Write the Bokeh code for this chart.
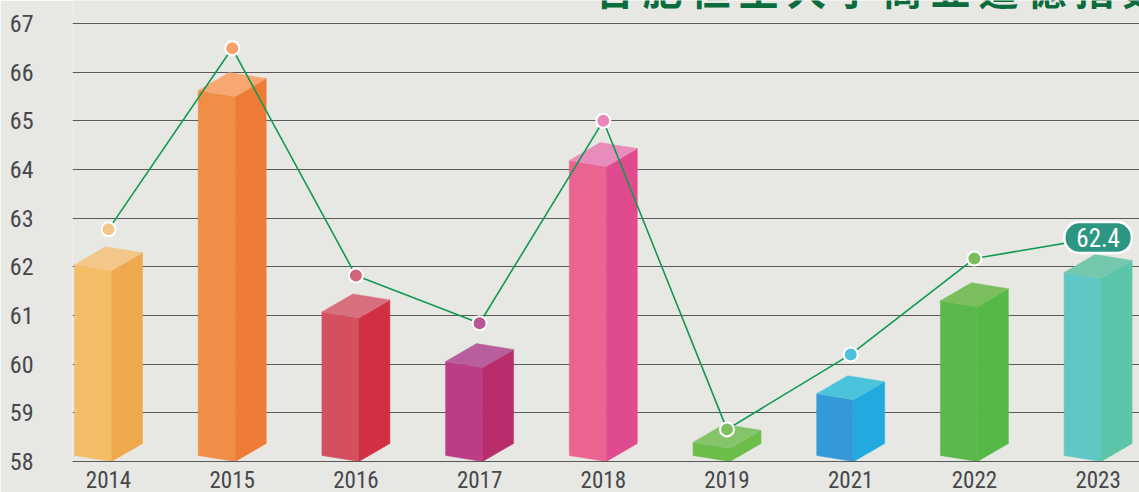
from bokeh.plotting import figure
from bokeh.embed import file_html
from bokeh.resources import INLINE
from bokeh.models import ColumnDataSource, FixedTicker, Label

years = ["2014", "2015", "2016", "2017", "2018", "2019", "2021", "2022", "2023"]
bar_values = [61.92, 65.50, 60.95, 59.93, 64.06, 58.27, 59.27, 61.18, 61.76]
line_values = [62.77, 66.49, 61.82, 60.84, 65.00, 58.66, 60.20, 62.17, 62.60]
y_ticks = [58, 59, 60, 61, 62, 63, 64, 65, 66, 67]
last_label = "62.4"
title_text = "\u2009".join("合肥恒生大学商业道德指数")
front_colors = ["#f4bd68", "#f08e48", "#d4505e", "#bc3c86", "#e96490", "#6cbd49", "#3399d8", "#5bb94b", "#60c8c4"]
side_colors = ["#eea94c", "#ee7b36", "#cf3043", "#b82d6c", "#e04a8e", "#6cbd49", "#22aae0", "#55b947", "#5cc4a8"]
top_colors = ["#f3c78a", "#f8a772", "#d7707c", "#b95e9c", "#e88dbb", "#85c46b", "#4cc3dc", "#7abe5e", "#74c8ae"]
dot_colors = ["#f3c78a", "#f6a36b", "#d0657a", "#b95596", "#e888bd", "#80c060", "#4fc0dc", "#7bbd5a", "#2c9683"]

W, H = 1139, 492
LEFT, BOTTOM = 72, 31
PITCH = 123.7          # px per category
UNIT = 48.67           # px per value unit
ORIGIN_X = 108
x0 = (LEFT - ORIGIN_X) / PITCH
x1 = (W - ORIGIN_X) / PITCH
y0 = 58
y1 = 58 + (H - BOTTOM) / UNIT

p = figure(width=W, height=H, x_range=(x0, x1), y_range=(y0, y1),
           output_backend="svg", toolbar_location=None,
           min_border_left=LEFT, min_border_right=0, min_border_top=0, min_border_bottom=BOTTOM,
           background_fill_color="#e7e8e3", border_fill_color="#e7e8e3",
           outline_line_color=None)

p.xgrid.visible = False
p.ygrid.ticker = FixedTicker(ticks=y_ticks[1:])
p.ygrid.grid_line_color = "#5a5a58"
p.ygrid.grid_line_width = 1

ax = p.xaxis[0]
ax.ticker = FixedTicker(ticks=list(range(len(years))))
ax.major_label_overrides = {i: y for i, y in enumerate(years)}
ax.axis_line_color = "#5a5a58"
ax.major_tick_line_color = None
ax.minor_tick_line_color = None
ax.major_tick_in = 0
ax.major_tick_out = 0
ax.major_label_standoff = 9
ax.major_label_text_font = "Roboto Condensed, Liberation Sans"
ax.major_label_text_font_size = "23px"
ax.major_label_text_color = "#45474a"

ay = p.yaxis[0]
ay.ticker = FixedTicker(ticks=y_ticks)
ay.axis_line_color = None
ay.major_tick_line_color = None
ay.minor_tick_line_color = None
ay.major_tick_in = 0
ay.major_tick_out = 0
ay.major_label_standoff = 39
ay.major_label_text_font = "Roboto Condensed, Liberation Sans"
ay.major_label_text_font_size = "24px"
ay.major_label_text_color = "#45474a"

# box geometry, px offsets from the front vertical edge
EDGE, L, R = 3, 37, 31
UP_L, UP_R, UP_B = 6, 18, 24

def X(i, dx):
    return i + (EDGE + dx) / PITCH

def U(v, dy):
    return v + dy / UNIT

fx, fy, sx, sy, tx, ty = [], [], [], [], [], []
for i, v in enumerate(bar_values):
    fx.append([X(i, -L), X(i, 0), X(i, 0), X(i, -L)])
    fy.append([U(58, UP_L), 58, v, U(v, UP_L)])
    sx.append([X(i, 0), X(i, R), X(i, R), X(i, 0)])
    sy.append([58, U(58, UP_R), U(v, UP_R), v])
    tx.append([X(i, -L), X(i, 0), X(i, R), X(i, R - L)])
    ty.append([U(v, UP_L), v, U(v, UP_R), U(v, UP_B)])

p.patches(fx, fy, fill_color=front_colors, line_color=front_colors, line_width=0.5)
p.patches(sx, sy, fill_color=side_colors, line_color=side_colors, line_width=0.5)
p.patches(tx, ty, fill_color=top_colors, line_color=top_colors, line_width=0.5)

xs = list(range(len(years)))
p.line(xs, line_values, line_color="#0f9a50", line_width=1.6)
src = ColumnDataSource(dict(x=xs[:-1], y=line_values[:-1], c=dot_colors[:-1]))
p.scatter("x", "y", source=src, size=14, fill_color="c", line_color="white", line_width=2)

p.add_layout(Label(x=xs[-1], y=line_values[-1], text=last_label, text_align="center",
                   text_baseline="middle", text_font="Roboto Condensed, Liberation Sans",
                   text_font_size="25px", text_color="white",
                   background_fill_color="#2c9683", border_line_color="white",
                   border_line_width=2.5, border_radius=15,
                   padding=(12, 6)))

p.add_layout(Label(x=522, y=H - BOTTOM + 13, x_units="screen", y_units="screen",
                   text=title_text, text_font="Noto Sans CJK SC",
                   text_font_size="40px", text_font_style="bold",
                   text_color="#0a6b3c", text_baseline="alphabetic"))

open("out.html", "w").write(file_html(p, INLINE))
